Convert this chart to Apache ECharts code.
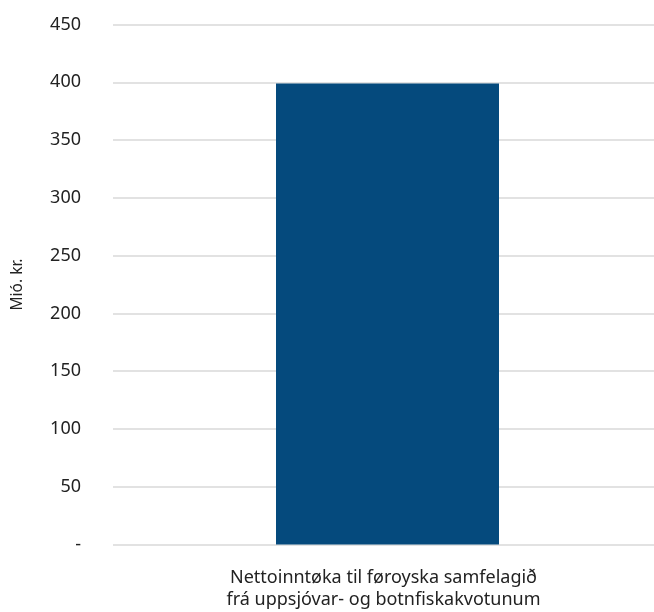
<!DOCTYPE html>
<html><head><meta charset="utf-8">
<script src="https://cdn.jsdelivr.net/npm/echarts@6/dist/echarts.min.js"></script>
<style>html,body{margin:0;padding:0;background:#fff}#c{width:654px;height:612px}</style>
</head><body><div id="c"></div>
<script>
const categories = ["Nettoinntøka til føroyska samfelagið\nfrá uppsjóvar- og botnfiskakvotunum"];
const values = [399];
const yAxisName = "Mió. kr.";
const chart = echarts.init(document.getElementById('c'), null, {renderer:'canvas'});
chart.setOption({
  animation:false,
  grid:{left:113,right:0,top:24.5,bottom:67.5,containLabel:false},
  xAxis:{type:'category',data:categories,axisLine:{show:false},axisTick:{show:false},
    axisLabel:{color:'#222',fontFamily:'Noto Sans',fontSize:18,lineHeight:22,margin:22}},
  yAxis:{type:'value',min:0,max:450,interval:50,name:yAxisName,nameLocation:'middle',nameGap:87,
    nameTextStyle:{color:'#222',fontFamily:'Noto Sans',fontSize:15.5},
    axisLine:{show:false},axisTick:{show:false},
    axisLabel:{color:'#222',fontFamily:'Noto Sans',fontSize:18,margin:32,formatter:v=>v===0?'-':String(v)},
    splitLine:{lineStyle:{color:'#d9d9d9',width:1.5}}},
  series:[
    {type:'bar',data:['-'],barWidth:8,barGap:'0%',silent:true,itemStyle:{opacity:0}},
    {type:'bar',data:values,barWidth:223,barGap:'0%',itemStyle:{color:'#054a7d'}}
  ]
});
</script></body></html>
